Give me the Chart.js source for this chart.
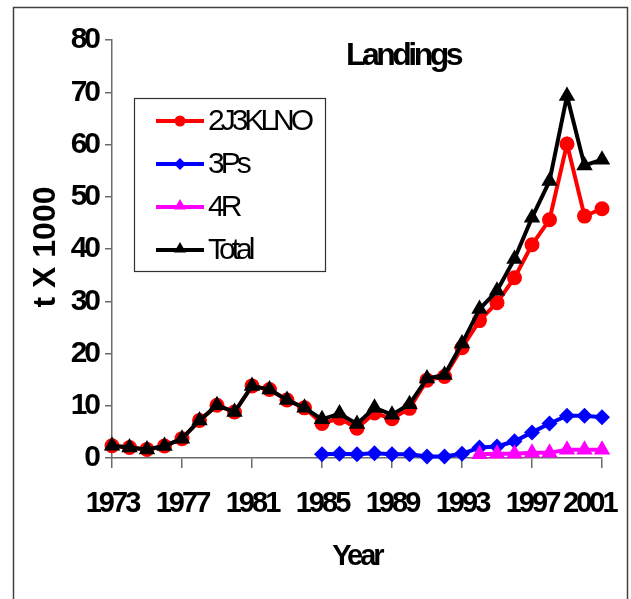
<!DOCTYPE html>
<html>
<head>
<meta charset="utf-8">
<script src="https://cdn.jsdelivr.net/npm/chart.js@4/dist/chart.umd.min.js"></script>
<style>
  html, body { margin: 0; padding: 0; background: #fff; }
  #wrap { width: 631px; height: 599px; position: relative; }
</style>
</head>
<body>
<div id="wrap"><canvas id="c" width="631" height="599"></canvas></div>
<script>
// ---------- data ----------
const years = [
  "1973", "1974", "1975", "1976", "1977", "1978", "1979", "1980", "1981", "1982",
  "1983", "1984", "1985", "1986", "1987", "1988", "1989", "1990", "1991", "1992",
  "1993", "1994", "1995", "1996", "1997", "1998", "1999", "2000", "2001",
];
const landings2J3KLNO = [
  2.35, 2.0, 1.65, 2.3, 3.7, 7.2, 10.1, 8.8, 13.8, 13.1,
  11.1, 9.6, 6.6, 7.6, 5.7, 8.6, 7.5, 9.5, 14.9, 15.6,
  21.1, 26.3, 29.7, 34.5, 40.8, 45.6, 60.1, 46.3, 47.7,
];
const landings3Ps = [
  null, null, null, null, null, null, null, null, null, null,
  null, null, 0.7, 0.8, 0.7, 0.9, 0.7, 0.7, 0.3, 0.3,
  0.8, 2.0, 2.2, 3.2, 4.9, 6.6, 8.1, 8.1, 7.8,
];
const landings4R = [
  null, null, null, null, null, null, null, null, null, null,
  null, null, null, null, null, null, null, null, null, null,
  null, 0.7, 0.8, 0.8, 1.0, 1.0, 1.6, 1.6, 1.6,
];
const landingsTotal = [
  2.35, 2.0, 1.65, 2.3, 3.7, 7.2, 10.1, 8.8, 13.8, 13.1,
  11.1, 9.6, 7.4, 8.5, 6.5, 9.6, 8.3, 10.3, 15.2, 15.9,
  21.9, 28.5, 32.0, 38.1, 46.0, 53.0, 69.3, 56.0, 57.1,
];
const yTicks = [0, 10, 20, 30, 40, 50, 60, 70, 80];

// ---------- helpers ----------
const FONT = '"Liberation Sans", Arial, sans-serif';
const AXIS = "#6b6b6b";
const TIGHT = "-3px"; // Excel-style tight kerning for the axis text

const series = [
  { label: "2J3KLNO", data: landings2J3KLNO, color: "#ff0000", marker: "circle", r: 7.5, lr: 5.5, order: 4 },
  { label: "3Ps", data: landings3Ps, color: "#0000ff", marker: "rectRot", r: 8, lr: 6, order: 3 },
  { label: "4R", data: landings4R, color: "#ff00ff", marker: "triangle", r: 9.5, lr: 7, order: 2 },
  { label: "Total", data: landingsTotal, color: "#000000", marker: "triangle", r: 9.5, lr: 7, order: 1 },
];

function drawMarker(ctx, kind, x, y, r, color) {
  ctx.fillStyle = color;
  ctx.beginPath();
  if (kind === "circle") {
    ctx.arc(x, y, r, 0, Math.PI * 2);
  } else if (kind === "rectRot") {
    ctx.moveTo(x, y - r);
    ctx.lineTo(x + r, y);
    ctx.lineTo(x, y + r);
    ctx.lineTo(x - r, y);
  } else {
    ctx.moveTo(x, y - r);
    ctx.lineTo(x + r * 0.866, y + r * 0.5);
    ctx.lineTo(x - r * 0.866, y + r * 0.5);
  }
  ctx.closePath();
  ctx.fill();
}

// frame, title, y title and legend drawn by a small plugin
const decor = {
  id: "decor",
  beforeInit(chart) {
    chart.ctx.letterSpacing = TIGHT;
  },
  beforeLayout(chart) {
    chart.ctx.letterSpacing = TIGHT;
  },
  beforeDraw(chart) {
    const ctx = chart.ctx;
    ctx.save();
    ctx.fillStyle = "#fff";
    ctx.fillRect(0, 0, chart.width, chart.height);
    ctx.strokeStyle = "#404040";
    ctx.lineWidth = 1.5;
    ctx.strokeRect(13.5, 7.5, 614, 600);
    ctx.restore();
  },
  afterDraw(chart) {
    const ctx = chart.ctx;
    ctx.save();
    ctx.fillStyle = "#000";
    ctx.textBaseline = "middle";

    // title
    ctx.letterSpacing = "-3.5px";
    ctx.font = "bold 32px " + FONT;
    ctx.textAlign = "center";
    ctx.fillText("Landings", 403, 56);

    // y axis title
    ctx.save();
    ctx.letterSpacing = "0px";
    ctx.font = "bold 32px " + FONT;
    ctx.translate(46, 247);
    ctx.rotate(-Math.PI / 2);
    ctx.fillText("t X 1000", 0, 0);
    ctx.restore();

    // legend box
    ctx.strokeStyle = "#303030";
    ctx.lineWidth = 1.2;
    ctx.strokeRect(134.5, 98.5, 191, 173);
    ctx.letterSpacing = "-4px";
    ctx.font = "30px " + FONT;
    ctx.textAlign = "left";
    const rows = [121, 164, 207, 250];
    series.forEach((s, i) => {
      const y = rows[i];
      ctx.strokeStyle = s.color;
      ctx.lineWidth = 4;
      ctx.beginPath();
      ctx.moveTo(156, y);
      ctx.lineTo(204, y);
      ctx.stroke();
      drawMarker(ctx, s.marker, 180, y - (s.marker === "triangle" ? 1 : 0), s.lr, s.color);
      ctx.fillStyle = "#000";
      ctx.fillText(s.label, 208, y + 1);
    });
    ctx.restore();
  },
};

new Chart(document.getElementById("c"), {
  type: "line",
  data: {
    labels: years,
    datasets: series.map((s) => ({
      label: s.label,
      data: s.data,
      borderColor: s.color,
      backgroundColor: s.color,
      borderWidth: 4,
      pointStyle: s.marker,
      pointRadius: s.r,
      pointBorderWidth: 0,
      tension: 0,
      spanGaps: false,
      clip: false,
      order: s.order,
    })),
  },
  options: {
    responsive: false,
    animation: false,
    devicePixelRatio: 1,
    layout: { padding: { left: 0, top: 40, right: 29, bottom: 0 } },
    plugins: {
      legend: { display: false },
      tooltip: { enabled: false },
    },
    scales: {
      x: {
        offset: false,
        afterFit: (scale) => {
          scale.height = 599 - 458;
          scale.paddingLeft = 0;
          scale.paddingRight = 0;
        },
        border: { display: true, color: AXIS, width: 1.5 },
        grid: {
          drawOnChartArea: false,
          drawTicks: true,
          tickLength: 10,
          color: AXIS,
          lineWidth: 1.5,
        },
        ticks: {
          autoSkip: false,
          maxRotation: 0,
          padding: 19,
          color: "#000",
          font: { family: FONT, size: 29, weight: "bold" },
          callback: function (v, i) {
            if (i % 4 !== 0) return null;
            // last label sits pulled in from the frame edge, as in the original
            return i === years.length - 1 ? years[i] + "     " : years[i];
          },
        },
        title: {
          display: true,
          text: "Year",
          color: "#000",
          font: { family: FONT, size: 29, weight: "bold" },
          padding: { top: 0, bottom: 25 },
        },
      },
      y: {
        min: yTicks[0],
        max: yTicks[yTicks.length - 1],
        afterFit: (scale) => {
          scale.width = 112;
          scale.paddingTop = 0;
          scale.paddingBottom = 0;
        },
        afterBuildTicks: (scale) => {
          scale.ticks = yTicks.map((v) => ({ value: v }));
        },
        border: { display: true, color: AXIS, width: 1.5 },
        grid: {
          drawOnChartArea: false,
          drawTicks: true,
          tickLength: 7,
          color: AXIS,
          lineWidth: 1.5,
        },
        ticks: {
          padding: 7,
          color: "#000",
          font: { family: FONT, size: 30, weight: "bold" },
        },
      },
    },
  },
  plugins: [decor],
});
</script>
</body>
</html>
